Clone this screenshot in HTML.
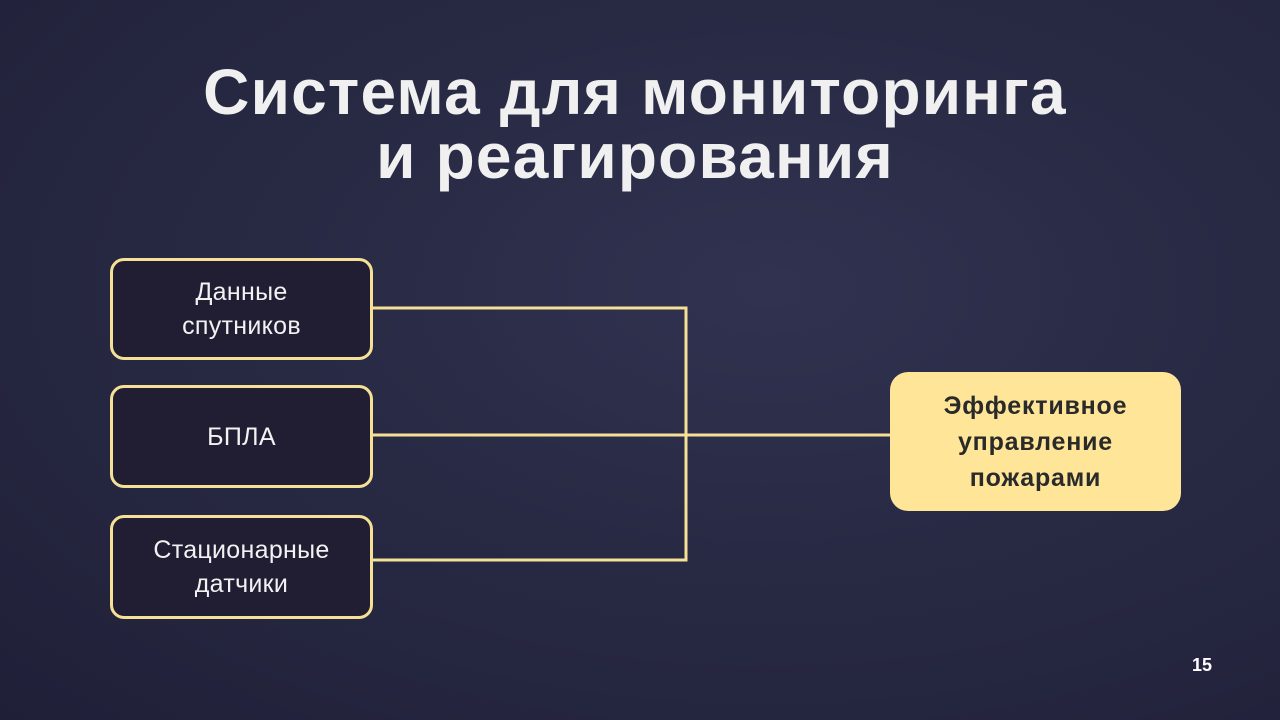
<!DOCTYPE html>
<html><head><meta charset="utf-8"><style>
html,body{margin:0;padding:0}
body{width:1280px;height:720px;overflow:hidden;position:relative;font-family:"Liberation Sans","DejaVu Sans",sans-serif;
background:radial-gradient(ellipse at 60% 40%,#303250 0%,#282a44 45%,#201f38 100%);}
.t{position:absolute;left:0;width:1270px;text-align:center;color:#f0f0f0;font-weight:bold;font-size:64px;line-height:64px;top:60px;letter-spacing:1.2px}
.b{position:absolute;box-sizing:border-box;border:3px solid #f6df96;border-radius:14px;background:#211e34;color:#f2f2f2;font-size:25px;line-height:34px;letter-spacing:0.3px;display:flex;align-items:center;justify-content:center;text-align:center}
.r{position:absolute;left:890px;top:372px;width:291px;height:139px;background:#fee597;border-radius:18px;color:#2a2a2a;font-size:25px;font-weight:bold;line-height:36px;display:flex;align-items:center;justify-content:center;text-align:center;letter-spacing:0.8px}
.n{position:absolute;left:1192px;top:655px;color:#fff;font-weight:bold;font-size:18px}
</style></head><body>
<div class="t">Система для мониторинга<br>и реагирования</div>
<svg width="1280" height="720" style="position:absolute;left:0;top:0">
<g stroke="#f6df96" stroke-width="3" fill="none">
<path d="M372 308H686V560H372M372 435H890"/>
</g></svg>
<div class="b" style="left:110px;top:258px;width:263px;height:102px">Данные<br>спутников</div>
<div class="b" style="left:110px;top:385px;width:263px;height:103px">БПЛА</div>
<div class="b" style="left:110px;top:515px;width:263px;height:104px">Стационарные<br>датчики</div>
<div class="r">Эффективное<br>управление<br>пожарами</div>
<div class="n">15</div>
</body></html>
